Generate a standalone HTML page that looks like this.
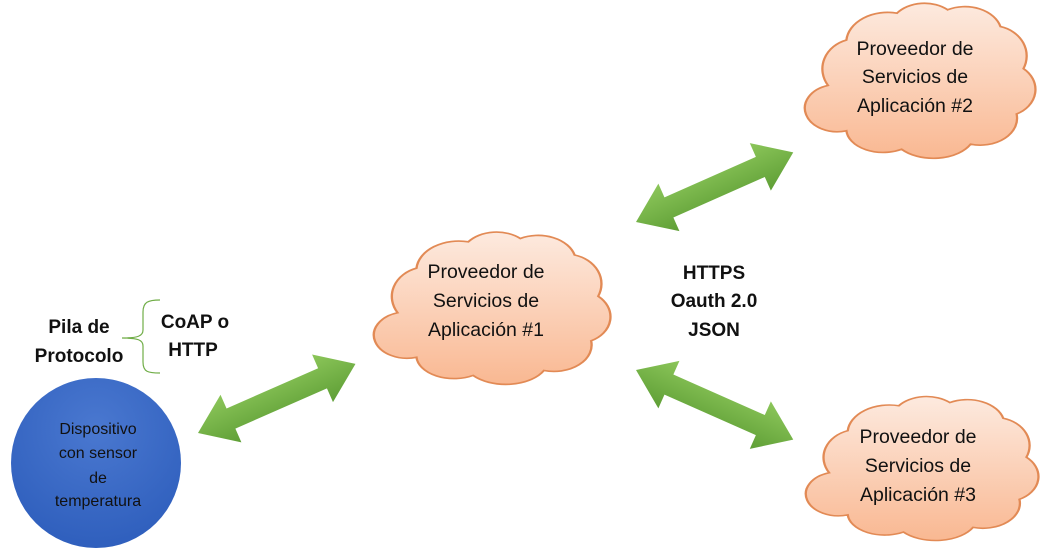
<!DOCTYPE html>
<html><head><meta charset="utf-8"><style>
body{margin:0;background:#fff;}
svg{display:block;}
text{font-family:"Liberation Sans",sans-serif;}
</style></head><body>
<svg width="1053" height="554" viewBox="0 0 1053 554" xmlns="http://www.w3.org/2000/svg">
<defs>
<linearGradient id="cg" x1="0" y1="0" x2="0" y2="1">
<stop offset="0" stop-color="#fdeadf"/><stop offset="1" stop-color="#f9b892"/></linearGradient>
<linearGradient id="gg" x1="0" y1="0" x2="0" y2="1">
<stop offset="0" stop-color="#8cc65a"/><stop offset="1" stop-color="#5f9f36"/></linearGradient>
<radialGradient id="bg" cx="0.5" cy="0.3" r="0.7">
<stop offset="0" stop-color="#4a78d0"/><stop offset="1" stop-color="#2f5fbd"/></radialGradient>
<path id="cloud" d="M 10,55 A 15,18 0 0 1 18,28 A 18,18 0 0 1 40,12 A 15,15 0 0 1 62,10 A 16,16 0 0 1 85,20 A 15,18 0 0 1 95,45 A 14,16 0 0 1 92,72 A 16,16 0 0 1 72,90 A 18,15 0 0 1 42,93 A 16,14 0 0 1 18,82 A 14,14 0 0 1 10,55 Z"/>
<polygon id="arr" points="0,0 36,-26 36,-11 136,-11 136,-26 172,0 136,26 136,11 36,11 36,26" fill="url(#gg)"/>
</defs>

<g transform="translate(374,222) scale(2.36,1.65)"><use href="#cloud" fill="url(#cg)" stroke="#e28a55" stroke-width="1" vector-effect="non-scaling-stroke"/></g>
<g transform="translate(805,-7) scale(2.3,1.68)"><use href="#cloud" fill="url(#cg)" stroke="#e28a55" stroke-width="1" vector-effect="non-scaling-stroke"/></g>
<g transform="translate(806,387) scale(2.32,1.56)"><use href="#cloud" fill="url(#cg)" stroke="#e28a55" stroke-width="1" vector-effect="non-scaling-stroke"/></g>

<g font-size="19.5" fill="#111" text-anchor="middle">
<text x="486" y="278">Proveedor de</text>
<text x="486" y="307">Servicios de</text>
<text x="486" y="336">Aplicación #1</text>
<text x="915" y="55">Proveedor de</text>
<text x="915" y="83">Servicios de</text>
<text x="915" y="112">Aplicación #2</text>
<text x="918" y="443">Proveedor de</text>
<text x="918" y="472">Servicios de</text>
<text x="918" y="501">Aplicación #3</text>
</g>

<use href="#arr" transform="translate(198,433) rotate(-23.7)"/>
<use href="#arr" transform="translate(636,222) rotate(-23.9)"/>
<use href="#arr" transform="translate(636,370) rotate(23.9)"/>

<ellipse cx="96" cy="463" rx="85" ry="85" fill="url(#bg)"/>
<g font-size="16" fill="#111" text-anchor="middle">
<text x="98" y="434">Dispositivo</text>
<text x="98" y="458">con sensor</text>
<text x="98" y="483">de</text>
<text x="98" y="506">temperatura</text>
</g>

<path d="M160,300 C148,300 143,302 143,312 L143,330 C143,336 138,338 122,338 C138,338 143,340 143,346 L143,362 C143,372 148,373 160,373" fill="none" stroke="#70ad47" stroke-width="1.2"/>

<g font-size="19" font-weight="bold" fill="#111" text-anchor="middle">
<text x="79" y="333">Pila de</text>
<text x="79" y="362">Protocolo</text>
<text x="195" y="328">CoAP o</text>
<text x="193" y="356">HTTP</text>
<text x="714" y="279">HTTPS</text>
<text x="714" y="307">Oauth 2.0</text>
<text x="714" y="336">JSON</text>
</g>
</svg>
</body></html>
